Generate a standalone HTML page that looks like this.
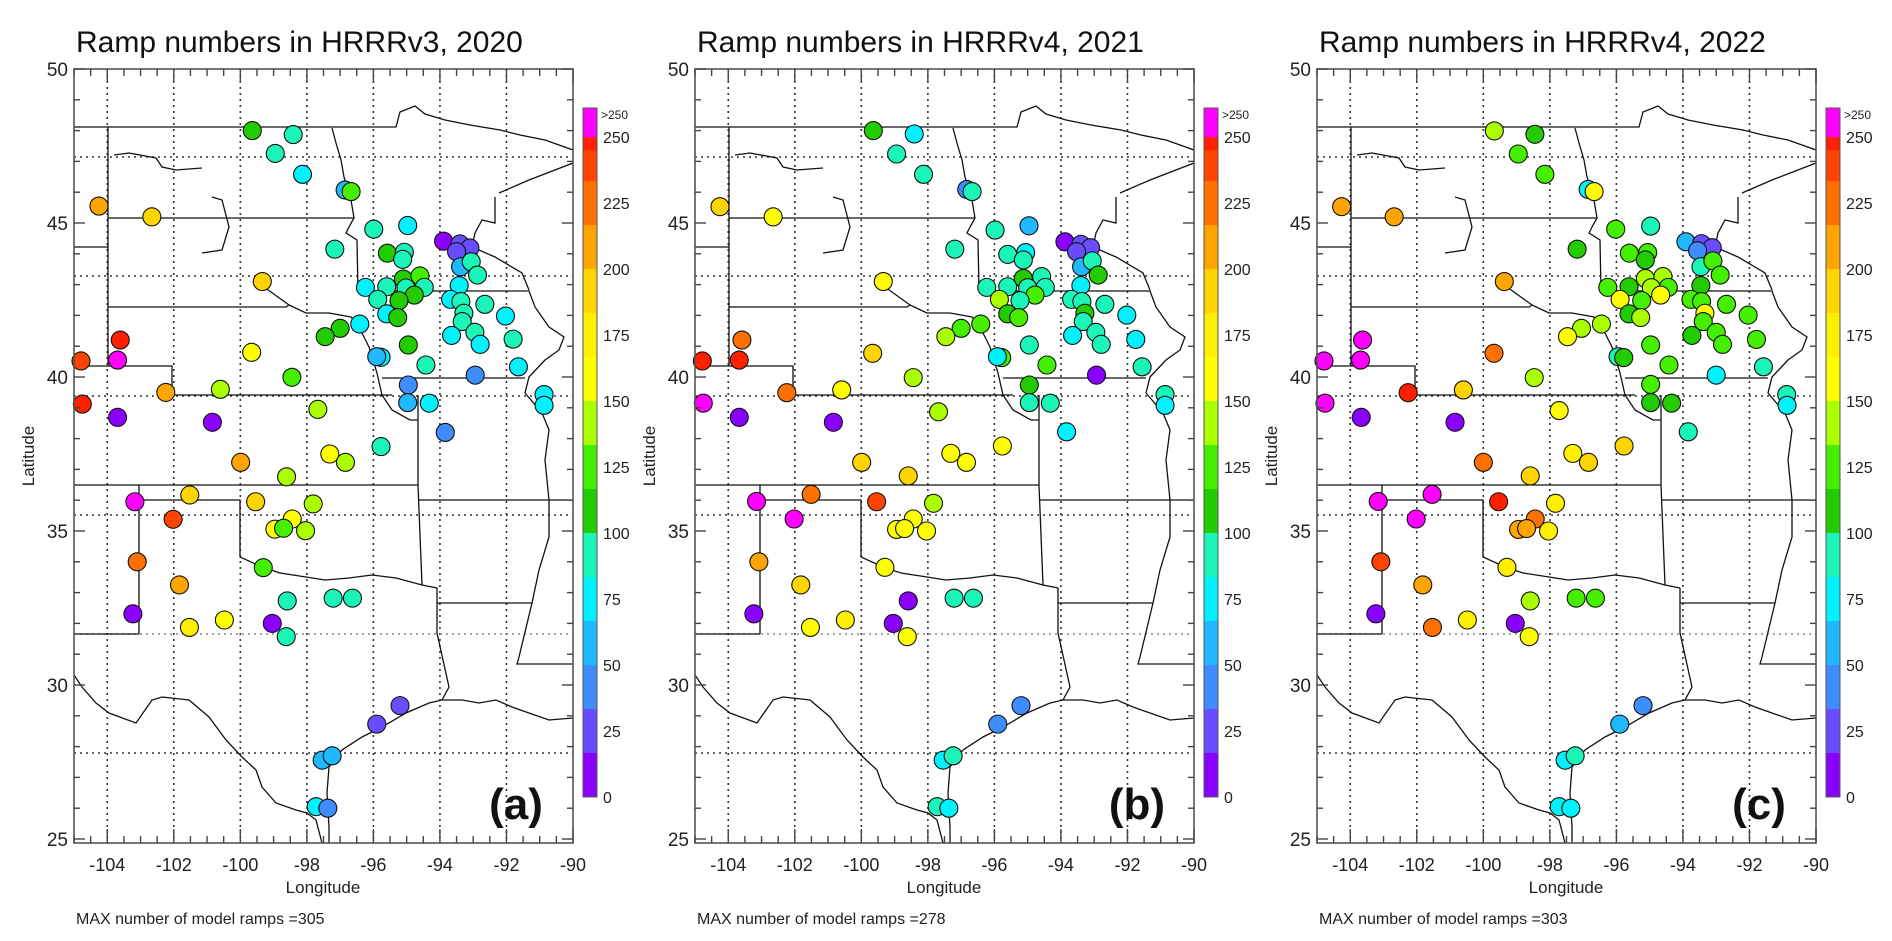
<!DOCTYPE html>
<html><head><meta charset="utf-8">
<style>
html,body{margin:0;padding:0;background:#fff;}
svg{display:block;font-family:"Liberation Sans",Arial,sans-serif;}
</style></head>
<body>
<svg id="fig" width="1892" height="941" viewBox="0 0 1892 941" xmlns="http://www.w3.org/2000/svg">
<defs>
<clipPath id="plotclip"><rect x="74" y="69" width="499" height="774"/></clipPath>
</defs>
</svg>
<script>
// ---------- data ----------
const panelTitles = ["Ramp numbers in HRRRv3, 2020","Ramp numbers in HRRRv4, 2021","Ramp numbers in HRRRv4, 2022"];
const panelTags = ["(a)","(b)","(c)"];
const maxRamps = [305, 278, 303];
const lonTicks = [-104,-102,-100,-98,-96,-94,-92,-90];
const latTicks = [25,30,35,40,45,50];
const cbarLabels = [0,25,50,75,100,125,150,175,200,225,250];

const lonA=[-99.64,-98.41,-98.95,-98.13,-96.85,-96.67,-104.25,-102.66,-95.99,-94.97,-97.16,-95.58,-95.07,-95.12,-93.89,-93.40,-93.10,-93.5,-93.38,-93.06,-92.87,-99.34,-96.24,-95.6,-95.1,-94.6,-95.02,-94.47,-94.77,-95.87,-95.23,-95.6,-95.27,-93.42,-93.68,-93.37,-93.28,-93.33,-92.65,-92.03,-93.65,-92.95,-92.79,-91.8,-96.41,-97.0,-97.45,-94.95,-95.77,-95.9,-94.42,-92.94,-91.64,-94.95,-94.97,-94.32,-98.45,-99.66,-100.6,-102.24,-103.61,-103.69,-104.79,-104.75,-103.69,-100.84,-97.67,-93.84,-95.77,-97.31,-96.84,-99.99,-98.61,-101.52,-99.54,-97.81,-103.17,-102.02,-98.44,-98.96,-98.7,-98.04,-103.1,-99.31,-101.83,-98.59,-97.21,-96.63,-103.23,-100.48,-101.53,-99.04,-98.62,-95.2,-95.9,-97.54,-97.24,-97.72,-97.37,-90.87,-90.87];
const latA=[48.0,47.87,47.26,46.58,46.07,46.02,45.55,45.2,44.8,44.92,44.15,44.02,44.05,43.82,44.41,44.32,44.19,44.07,43.58,43.74,43.31,43.1,42.91,42.93,43.18,43.28,42.89,42.91,42.66,42.52,42.48,42.05,41.93,42.97,42.52,42.45,42.07,41.8,42.36,41.98,41.35,41.45,41.06,41.23,41.72,41.58,41.31,41.04,40.64,40.66,40.39,40.06,40.33,39.74,39.17,39.15,39.99,40.8,39.6,39.5,41.2,40.55,40.52,39.12,38.69,38.53,38.95,38.2,37.74,37.5,37.23,37.23,36.76,36.17,35.95,35.88,35.95,35.38,35.39,35.06,35.09,35.01,34.0,33.81,33.25,32.73,32.82,32.82,32.31,32.11,31.87,32.0,31.57,29.33,28.73,27.56,27.7,26.05,26.0,39.43,39.08];
const valA=[110,90,90,70,65,120,205,195,90,70,90,105,85,85,5,20,20,20,55,85,95,185,70,95,110,120,95,90,110,95,105,70,110,70,75,85,90,95,90,75,75,85,75,95,75,115,110,105,70,55,85,45,75,45,60,70,125,165,145,205,248,260,240,248,5,5,145,45,95,165,145,205,145,185,185,145,260,240,165,165,125,145,222,130,205,95,85,95,5,160,170,5,95,20,20,55,60,70,45,75,70];

const lonB=[-99.64,-98.41,-98.94,-98.13,-96.83,-96.67,-104.25,-102.65,-95.98,-94.96,-97.19,-95.6,-95.06,-95.13,-93.88,-93.4,-93.11,-93.53,-93.38,-93.06,-92.88,-99.34,-96.23,-95.6,-95.13,-94.58,-95.0,-94.47,-94.78,-95.85,-95.23,-95.6,-95.27,-93.4,-93.68,-93.37,-93.28,-93.33,-92.68,-92.02,-93.65,-92.95,-92.79,-91.75,-96.41,-97.0,-97.46,-94.95,-95.78,-95.91,-94.42,-92.93,-91.56,-94.95,-94.95,-94.32,-98.44,-99.66,-100.59,-102.24,-103.59,-103.67,-104.78,-104.75,-90.87,-90.87,-103.67,-100.84,-97.68,-93.83,-95.76,-97.31,-96.84,-99.99,-98.59,-101.51,-99.54,-97.83,-103.15,-102.02,-98.44,-98.94,-98.7,-98.04,-103.08,-99.29,-101.82,-98.59,-97.21,-96.63,-103.23,-100.48,-101.53,-99.04,-98.62,-95.2,-95.9,-97.54,-97.24,-97.72,-97.37];
const latB=[48.0,47.89,47.24,46.58,46.09,46.02,45.53,45.2,44.77,44.91,44.15,43.98,44.04,43.8,44.39,44.31,44.2,44.07,43.58,43.77,43.31,43.1,42.91,42.93,43.2,43.26,42.9,42.91,42.66,42.52,42.48,42.05,41.93,42.97,42.52,42.45,42.07,41.8,42.36,42.01,41.35,41.45,41.06,41.22,41.72,41.58,41.31,41.04,40.63,40.66,40.39,40.06,40.33,39.74,39.17,39.15,39.98,40.77,39.58,39.49,41.2,40.55,40.52,39.15,39.43,39.08,38.69,38.53,38.87,38.22,37.76,37.52,37.23,37.23,36.79,36.19,35.95,35.9,35.96,35.39,35.39,35.05,35.08,35.0,34.0,33.82,33.25,32.73,32.82,32.82,32.31,32.11,31.87,32.0,31.57,29.33,28.73,27.56,27.7,26.05,26.0];
const valB=[110,70,85,95,45,95,185,165,95,65,85,85,70,85,5,20,20,25,60,95,105,165,95,95,110,95,95,85,120,140,95,110,120,75,95,95,105,95,85,75,75,95,90,75,125,125,145,95,125,70,120,5,85,110,85,85,145,190,165,220,220,248,248,260,95,75,5,5,145,75,165,165,165,185,185,220,240,135,260,260,165,165,165,155,205,165,185,5,95,95,5,180,165,5,165,45,45,70,85,85,70];

const lonC=[-99.67,-98.45,-98.95,-98.15,-96.85,-96.67,-104.26,-102.68,-96.02,-94.97,-97.18,-95.61,-95.06,-95.13,-93.91,-93.44,-93.12,-93.56,-93.46,-93.1,-92.88,-99.37,-96.26,-95.62,-95.13,-94.6,-94.95,-94.44,-94.67,-95.89,-95.24,-95.62,-95.27,-93.46,-93.76,-93.44,-93.34,-93.39,-92.69,-92.04,-93.73,-93.0,-92.81,-91.79,-96.45,-97.05,-97.47,-94.97,-95.95,-95.78,-94.42,-93.0,-91.58,-94.97,-94.97,-94.34,-98.47,-99.68,-100.6,-102.26,-103.63,-103.69,-104.79,-104.76,-90.88,-90.87,-97.72,-103.67,-100.85,-93.84,-95.77,-97.31,-96.84,-100.0,-98.59,-101.54,-99.54,-97.83,-103.16,-102.02,-98.44,-98.94,-98.7,-98.04,-103.08,-99.29,-101.82,-98.59,-97.21,-96.63,-103.23,-100.48,-101.53,-99.04,-98.62,-95.2,-95.9,-97.54,-97.24,-97.72,-97.37];
const latC=[47.99,47.88,47.24,46.58,46.09,46.02,45.53,45.2,44.8,44.9,44.15,44.02,44.04,43.8,44.39,44.33,44.2,44.1,43.58,43.77,43.31,43.1,42.91,42.93,43.2,43.26,42.9,42.91,42.66,42.52,42.48,42.05,41.93,42.97,42.52,42.45,42.07,41.8,42.36,42.01,41.35,41.45,41.06,41.22,41.72,41.58,41.31,41.04,40.66,40.63,40.39,40.06,40.33,39.76,39.17,39.15,39.98,40.77,39.58,39.49,41.2,40.55,40.52,39.15,39.43,39.08,38.91,38.69,38.53,38.22,37.76,37.52,37.23,37.23,36.79,36.19,35.95,35.9,35.96,35.39,35.39,35.05,35.08,35.0,34.0,33.82,33.25,32.73,32.82,32.82,32.31,32.11,31.87,32.0,31.57,29.33,28.73,27.56,27.7,26.05,26.0];
const valC=[145,110,120,125,70,165,200,200,125,90,110,125,125,110,60,30,30,45,95,120,130,200,120,115,140,140,145,125,160,165,125,115,140,105,125,120,160,125,120,130,110,125,118,120,140,145,165,125,85,110,125,70,95,125,110,110,140,222,195,248,260,260,260,260,85,70,165,5,5,95,185,180,185,230,195,260,248,170,260,260,222,200,200,180,238,170,205,145,125,125,5,180,222,5,165,40,55,70,85,80,80];

const binColors=['#8a00ff','#6a4cff','#3f8cff','#20b8ff','#00f2ff','#1cf5b8','#22cc00','#44f000','#aaff00','#ffff00','#fff000','#ffd400','#ffa500','#ff7000','#ff4400'];
const overColor='#ff00ff';
const redTop='#ff2000';

// ---------- geometry ----------
const X0=74, X1=573, Y0=69, Y1=843;
const PX_PER_LON=(X1-X0)/15, PX_PER_LAT=30.8;
const offsets=[0,621,1243];
function xScale(lon,off){return off+X0+(lon+105)*PX_PER_LON;}
function yScale(lat){return Y0+(50-lat)*PX_PER_LAT;}
function colorFor(v){ if(v>250) return overColor; if(v>=245) return redTop; let b=Math.floor(v/(250/15)); if(b>14)b=14; if(b<0)b=0; return binColors[b]; }
const CB_BOT=797, CB_PX=2.64;
function cbY(v){return CB_BOT-v*CB_PX;}

const NS='http://www.w3.org/2000/svg';
const svg=document.getElementById('fig');
function mk(tag,attrs,parent){const e=document.createElementNS(NS,tag);for(const k in attrs)e.setAttribute(k,attrs[k]);(parent||svg).appendChild(e);return e;}

// map outline paths (panel-local pixel geometry)
const mapLines=[
 [[74,127],[396,127],[400,112],[415,106],[425,114],[445,120],[470,125],[500,130],[520,135],[545,140],[573,150]],
 [[108,127],[108,366]],[[74,247],[108,247]],
 [[74,366],[172,366],[172,395],[392,395]],
 [[108,218],[354,218]],
 [[108,307],[286,307],[289,305],[306,313],[329,313],[351,317],[359,327],[369,347],[377,373],[382,395],[392,410],[410,420],[418,420]],
 [[332,128],[336,143],[341,160],[344,177],[351,200],[354,218],[349,227],[346,233],[357,240],[358,291]],
 [[358,291],[529,291],[535,307],[549,327],[564,337],[559,350],[545,360],[529,377],[525,393],[542,413],[549,430],[545,460],[549,500],[549,537],[539,570],[532,603],[519,657],[517,664],[573,664]],
 [[382,378],[525,378]],
 [[418,395],[418,485]],[[74,485],[418,485]],
 [[139,485],[139,634]],[[74,634],[139,634]],
 [[140,500],[240,500],[240,557],[262,567],[280,573],[306,577],[325,580],[349,578],[372,575],[396,578],[422,585],[437,588]],
 [[418,485],[422,585]],[[418,500],[573,500]],
 [[437,588],[437,633],[449,687],[442,700]],
 [[437,603],[532,603]],
 [[74,675],[82,687],[96,703],[109,713],[136,723],[152,700],[162,697],[189,700],[209,717],[226,740],[242,757],[256,770],[262,787],[276,803],[296,810],[307,813],[316,820],[322,843]],
 [[329,843],[329,827],[327,793],[329,767],[342,750],[362,737],[382,727],[406,713],[429,703],[442,700],[462,700],[479,703],[496,700],[512,707],[529,713],[549,720],[573,718]],
 [[114,155],[129,153],[156,158],[162,167],[176,170],[202,168]],
 [[212,197],[222,200],[229,227],[222,250],[202,253]],
 [[264,287],[289,305]],
 [[499,193],[529,180],[573,163]],
 [[495,197],[495,223],[482,220],[475,233],[472,247],[495,257],[522,273],[529,290]]
];
const hGrid=[157,276,396,515,634,753];

offsets.forEach((off,pi)=>{
  const g=mk('g',{});
  
  
  // title
  const t=mk('text',{x:off+76,y:52,'font-size':30,fill:'#111'},g);
  t.textContent=panelTitles[pi];
  
  
  // plot content clipped
  const inner=mk('g',{'clip-path':'url(#plotclip)',transform:`translate(${off},0)`},g);
  
  
  // grid
  for(let lon=-104;lon<=-92;lon+=2){
    const x=X0+(lon+105)*PX_PER_LON;
    mk('line',{x1:x,y1:Y0,x2:x,y2:Y1,stroke:'#333','stroke-width':1.6,'stroke-dasharray':'2,4'},inner);
  }
  hGrid.forEach((y,i)=>{
    mk('line',{x1:X0,y1:y,x2:X1,y2:y,stroke:i==4?'#888':'#333','stroke-width':1.5,'stroke-dasharray':'2,4'},inner);
  });
  mapLines.forEach(pts=>{
    mk('polyline',{points:pts.map(p=>p.join(',')).join(' '),fill:'none',stroke:'#111','stroke-width':1.3},inner);
  });
  // points
  const lons=[lonA,lonB,lonC][pi], lats=[latA,latB,latC][pi], vals=[valA,valB,valC][pi];
  const pg=mk('g',{},g);
  
  
  for(let i=0;i<lons.length;i++){
    const c=mk('circle',{cx:xScale(lons[i],off),cy:yScale(lats[i]),r:9,fill:colorFor(vals[i]),stroke:'#111','stroke-width':1.1},pg);
    
    
  }
  // frame
  const fr=mk('rect',{x:off+X0,y:Y0,width:X1-X0,height:Y1-Y0,fill:'none',stroke:'#555','stroke-width':1.6},g);
  
  
  // lon ticks
  for(let k=0;k<=30;k++){
    const lon=-105+k*0.5, x=off+X0+k*0.5*PX_PER_LON;
    const major=(Math.abs(lon%2)<1e-6);
    const L=major?14:7;
    mk('line',{x1:x,y1:Y0,x2:x,y2:Y0+L,stroke:'#444','stroke-width':1.4},g);
    mk('line',{x1:x,y1:Y1,x2:x,y2:Y1-L,stroke:'#444','stroke-width':1.4},g);
  }
  lonTicks.forEach(lon=>{
    const tt=mk('text',{x:xScale(lon,off),y:871,'font-size':18,fill:'#222','text-anchor':'middle'},g);
    tt.textContent=String(lon);
    
    
  });
  for(let lat=25;lat<=50;lat++){
    const y=yScale(lat), L=(lat%5==0)?11:6;
    mk('line',{x1:off+X0,y1:y,x2:off+X0+L,y2:y,stroke:'#444','stroke-width':1.4},g);
    mk('line',{x1:off+X1,y1:y,x2:off+X1-L,y2:y,stroke:'#444','stroke-width':1.4},g);
  }
  latTicks.forEach(lat=>{
    const tt=mk('text',{x:off+68,y:yScale(lat)+7,'font-size':19,fill:'#222','text-anchor':'end'},g);
    tt.textContent=String(lat);
    
    
  });
  const xl=mk('text',{x:off+323,y:893,'font-size':17,fill:'#222','text-anchor':'middle'},g);
  xl.textContent='Longitude';
  
  
  const yl=mk('text',{x:0,y:0,'font-size':17,fill:'#222','text-anchor':'middle',transform:`translate(${off+34},456) rotate(-90)`},g);
  yl.textContent='Latitude';
  
  
  const mx=mk('text',{x:off+76,y:924,'font-size':16,fill:'#222'},g);
  mx.textContent='MAX number of model ramps ='+maxRamps[pi];
  
  
  const tg=mk('text',{x:off+516,y:819,'font-size':44,'font-weight':'bold',fill:'#111','text-anchor':'middle'},g);
  tg.textContent=panelTags[pi];
  
  
  // colorbar
  const cb=mk('g',{},g);
  
  
  const cx=off+583, cw=14;
  for(let b=0;b<15;b++){
    const v0=b*250/15, v1=(b+1)*250/15;
    mk('rect',{x:cx,y:cbY(v1),width:cw,height:cbY(v0)-cbY(v1),fill:binColors[b]},cb);
  }
  mk('rect',{x:cx,y:cbY(255),width:cw,height:cbY(245)-cbY(255),fill:redTop},cb);
  mk('rect',{x:cx,y:cbY(250)-29,width:cw,height:29,fill:overColor},cb);
  mk('rect',{x:cx,y:cbY(250)-29,width:cw,height:cbY(0)-cbY(250)+29,fill:'none',stroke:'#555','stroke-width':1},cb);
  cbarLabels.forEach(v=>{
    const tt=mk('text',{x:cx+20,y:cbY(v)+6,'font-size':16,fill:'#222'},cb);
    tt.textContent=String(v);
    
    
  });
  const ov=mk('text',{x:cx+18,y:cbY(250)-18,'font-size':12,fill:'#222'},cb);
  ov.textContent='>250';
  
  
});
</script>
</body></html>
